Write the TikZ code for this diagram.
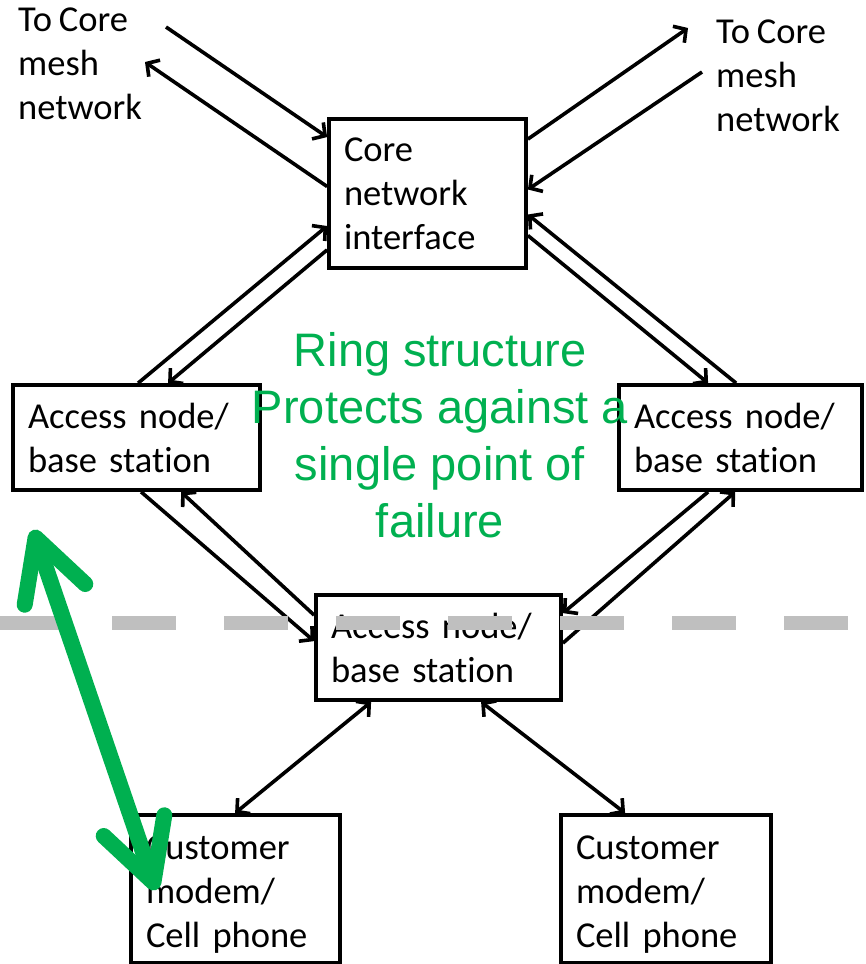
\documentclass[tikz,border=0pt]{standalone}
\usepackage{fontspec}
\setmainfont{Carlito}[Ligatures=NoCommon, WordSpace=0.85]
\newfontfamily\ringfont{Liberation Sans}
\usetikzlibrary{arrows.meta,calc}
\definecolor{ringgreen}{HTML}{00B050}
\definecolor{splitgray}{HTML}{BFBFBF}
\newcommand{\lift}{\rule{0pt}{35pt}}
\tikzset{
  unit/.style={draw, line width=3.8pt, inner xsep=15pt, inner ysep=0pt, align=left,
               font=\fontsize{36.5}{44}\selectfont},
  label/.style={inner sep=0pt, align=left, anchor=north west,
                font=\fontsize{36.5}{44}\selectfont},
  link/.style={line width=3.6pt, -{Straight Barb[length=9pt,width=20pt]}},
  duplex/.style={line width=3.6pt, {Straight Barb[length=9pt,width=20pt]}-{Straight Barb[length=9pt,width=20pt]}},
  split/.style={line width=14pt, splitgray, dash pattern=on 64pt off 48pt},
  span/.style={line width=16pt, ringgreen, line cap=round,
               {Straight Barb[length=60pt,width=64pt,round]}-{Straight Barb[length=60pt,width=64pt,round]}},
}
\begin{document}
\begin{tikzpicture}[x=1pt,y=-1pt]
\useasboundingbox (0,0) rectangle (865,964);
\fill[white] (0,0) rectangle (865,964);

% boxes
\node[unit, text width=167pt, minimum height=149pt] (core) at (427.5,193.5) {Core\\network\\interface};
\node[unit, text width=217pt, minimum height=105pt] (accL) at (136.5,437.5) {Access node/\\base station};
\node[unit, text width=213pt, minimum height=105pt] (accR) at (740.5,437.5) {Access node/\\base station};
\node[unit, text width=215pt, minimum height=105pt] (accB) at (438.5,647.5) {Access node/\\base station};
\node[unit, text width=179pt, minimum height=148pt] (custL) at (235.5,889) {\lift Customer\\modem/\\Cell phone};
\node[unit, text width=180pt, minimum height=148pt] (custR) at (666,889) {\lift Customer\\modem/\\Cell phone};

% mesh labels
\node[label] (meshL) at (18,8) {To Core\\mesh\\network};
\node[label] (meshR) at (716,20) {To Core\\mesh\\network};

% free ends toward the core mesh
\coordinate (inL)  at (166,27);
\coordinate (outL) at (145,62);
\coordinate (outR) at (688,28);
\coordinate (inR)  at (702,72);

% core <-> mesh
\draw[link] (inL) -- ($(core.north west)+(0,20)$);
\draw[link] ($(core.west)+(0,-7)$) -- (outL);
\draw[link] ($(core.north east)+(0,22)$) -- (outR);
\draw[link] (inR) -- ($(core.east)+(0,-4)$);

% ring links
\draw[link] ($(accL.north west)+(127,0)$) -- ($(core.west)+(0,32.5)$);
\draw[link] ($(core.south west)+(0,-20)$) -- ($(accL.north west)+(157,0)$);
\draw[link] ($(accR.north west)+(119,0)$) -- ($(core.east)+(0,21)$);
\draw[link] ($(core.east)+(0,42)$) -- ($(accR.north west)+(91,0)$);
\draw[link] ($(accL.south west)+(130,0)$) -- ($(accB.north west)+(0,48)$);
\draw[link] ($(accB.north west)+(0,22)$) -- ($(accL.south west)+(170,0)$);
\draw[link] ($(accR.south west)+(91,0)$) -- ($(accB.north east)+(0,20)$);
\draw[link] ($(accB.north east)+(0,50)$) -- ($(accR.south west)+(118,0)$);

% access links
\draw[duplex] ($(accB.south west)+(57,0)$) -- ($(custL.north west)+(106,0)$);
\draw[duplex] ($(accB.south west)+(167,0)$) -- ($(custR.north west)+(66,0)$);

% boundary between ring and access
\coordinate (splitA) at (0,623);
\coordinate (splitB) at (865,623);
\draw[split] (splitA) -- (splitB);

% last-mile span
\coordinate (spanTop) at (33,530);
\coordinate (spanBot) at (156,890);
\draw[span] (spanTop) -- (spanBot);

% ring note
\node[ringgreen, align=center, inner sep=0pt, font=\ringfont\fontsize{47}{57}\selectfont] (note) at (440,435)
  {Ring structure\\Protects against a\\single point of\\failure};
\end{tikzpicture}
\end{document}
